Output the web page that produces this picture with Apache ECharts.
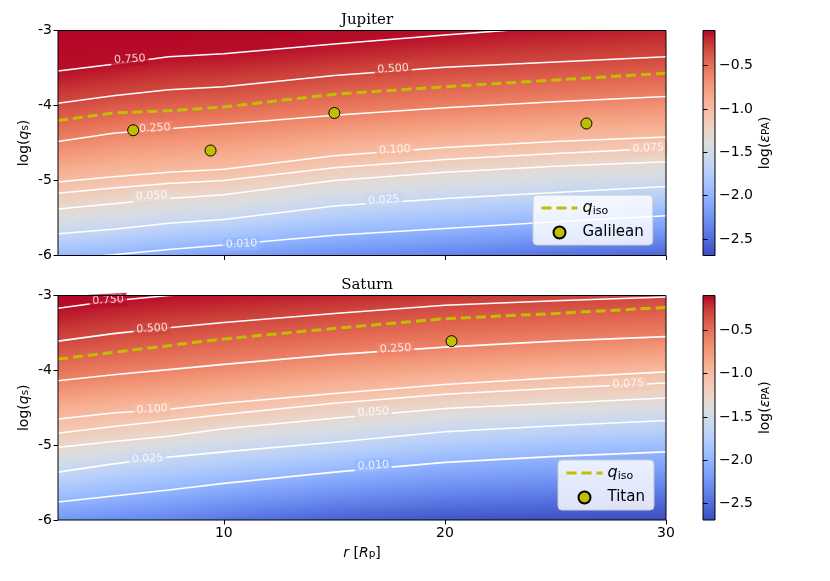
<!DOCTYPE html>
<html>
<head>
<meta charset="utf-8">
<script src="https://cdn.jsdelivr.net/npm/echarts@6/dist/echarts.min.js"></script>
<style>
  html, body { margin: 0; padding: 0; background: #fff; }
  #chart { width: 830px; height: 581px; }
</style>
</head>
<body>
<div id="chart"></div>
<script>
// radial columns where the contours were read (r in planet radii)
const rCols = [2.5, 5, 7.5, 10, 15, 20, 25, 30];

// contour levels of eps_PA, top to bottom
const levelVals = [0.75, 0.5, 0.25, 0.1, 0.075, 0.05, 0.025, 0.01];

// Jupiter: log(q_s) of every contour at each column
const jup075 = [-3.54, -3.45, -3.35, -3.31, -3.18, -3.06, -2.95, -2.86];
const jup050 = [-3.97, -3.87, -3.79, -3.75, -3.60, -3.49, -3.42, -3.35];
const jup025 = [-4.48, -4.37, -4.31, -4.25, -4.13, -4.03, -3.95, -3.88];
const jup010 = [-5.02, -4.95, -4.89, -4.85, -4.67, -4.56, -4.48, -4.42];
const jup0075 = [-5.17, -5.10, -5.04, -5.00, -4.83, -4.72, -4.64, -4.57];
const jup005 = [-5.38, -5.31, -5.24, -5.19, -5.00, -4.89, -4.81, -4.75];
const jup0025 = [-5.71, -5.65, -5.57, -5.52, -5.34, -5.24, -5.16, -5.08];
const jup001 = [-6.05, -5.99, -5.92, -5.86, -5.73, -5.64, -5.55, -5.47];
// log(eps_PA) at the upper (log q = -3) and lower (log q = -6) edges
const jupTop = [-0.096, -0.098, -0.10, -0.10, -0.11, -0.115, -0.143, -0.175];
const jupBottom = [-1.945, -2.01, -2.09, -2.16, -2.27, -2.36, -2.46, -2.54];
const jupQiso = [-4.20, -4.10, -4.07, -4.02, -3.85, -3.75, -3.66, -3.57];

// Saturn
const sat075 = [-3.17, -3.07, -3.00, -2.97, -2.90, -2.83, -2.77, -2.70];
const sat050 = [-3.61, -3.51, -3.43, -3.36, -3.24, -3.13, -3.07, -3.02];
const sat025 = [-4.14, -4.06, -3.99, -3.92, -3.79, -3.69, -3.61, -3.55];
const sat010 = [-4.65, -4.57, -4.52, -4.44, -4.31, -4.19, -4.10, -4.02];
const sat0075 = [-4.84, -4.75, -4.67, -4.59, -4.44, -4.32, -4.24, -4.17];
const sat005 = [-5.03, -4.95, -4.88, -4.78, -4.64, -4.51, -4.44, -4.37];
const sat0025 = [-5.36, -5.25, -5.16, -5.09, -4.96, -4.82, -4.74, -4.67];
const sat001 = [-5.76, -5.68, -5.60, -5.51, -5.36, -5.23, -5.15, -5.09];
const satTop = [-0.096, -0.11, -0.125, -0.14, -0.18, -0.22, -0.26, -0.29];
const satBottom = [-2.23, -2.29, -2.35, -2.44, -2.56, -2.64, -2.67, -2.69];
const satQiso = [-3.85, -3.76, -3.67, -3.58, -3.44, -3.31, -3.24, -3.16];

// moons
const galR = [5.9, 9.4, 15.0, 26.4];
const galQ = [-4.33, -4.60, -4.10, -4.24];
const titanR = [20.3];
const titanQ = [-3.61];

// where the inline contour labels sit (same order as levelVals)
const jupLabR = [5.75, 17.66, 6.88, 17.74, 29.2, 6.73, 17.24, 10.8];
const jupLabQ = [-3.384, -3.513, -4.304, -4.593, -4.571, -5.207, -5.26, -5.847];
const satLabR = [4.77, 6.76, 17.77, 6.76, 28.3, 16.76, 6.55, 16.76];
const satLabQ = [-3.064, -3.444, -3.712, -4.523, -4.184, -4.559, -5.184, -5.272];

// colour bar
const vMin = -2.69, vMax = -0.096;
const cbTicks = [-2.5, -2.0, -1.5, -1.0, -0.5];
const xTicks = [10, 20, 30];

const jupRows = [jup075, jup050, jup025, jup010, jup0075, jup005, jup0025, jup001];
const satRows = [sat075, sat050, sat025, sat010, sat0075, sat005, sat0025, sat001];
const levelLogs = levelVals.map(v => Math.log10(v));

// coolwarm
const cmapStops = ['#3b4cc0', '#4d68d7', '#6282ea', '#779af7', '#8db0fe', '#a3c2fe',
  '#b8d0f9', '#ccd9ee', '#dddddd', '#ecd3c5', '#f5c4ad', '#f7b194', '#f49a7b',
  '#ec7f63', '#de604d', '#cb3e38', '#b40426'];
const cmapRgb = cmapStops.map(h => [1, 3, 5].map(k => parseInt(h.substr(k, 2), 16)));

function cmap(v) {
  let t = (v - vMin) / (vMax - vMin);
  t = Math.max(0, Math.min(1, t));
  const f = t * (cmapRgb.length - 1);
  const k = Math.min(cmapRgb.length - 2, Math.floor(f));
  const u = f - k;
  const a = cmapRgb[k], b = cmapRgb[k + 1];
  return 'rgb(' + a.map((c, j) => Math.round(c + (b[j] - c) * u)).join(',') + ')';
}

const lerp = (a, b, t) => a + (b - a) * t;

// gradient stops down one strip: [logq, value] pairs from -3 to -6
function stripStops(pts) {
  const stops = [];
  for (let p = 0; p < pts.length - 1; p++) {
    for (let s = 0; s < 4; s++) {
      const t = s / 4;
      const q = lerp(pts[p][0], pts[p + 1][0], t);
      stops.push({ offset: (-3 - q) / 3, color: cmap(lerp(pts[p][1], pts[p + 1][1], t)) });
    }
  }
  const last = pts[pts.length - 1];
  stops.push({ offset: (-3 - last[0]) / 3, color: cmap(last[1]) });
  return stops;
}

function fieldRender(rows, topV, botV) {
  return function (params, api) {
    const i = api.value(2);
    if (i >= rCols.length - 1) return;
    const N = 14;
    const children = [];
    for (let k = 0; k < N; k++) {
      const tm = (k + 0.5) / N;
      const pa = api.coord([lerp(rCols[i], rCols[i + 1], k / N), -3]);
      const pb = api.coord([lerp(rCols[i], rCols[i + 1], (k + 1) / N), -6]);
      const pts = [[-3, lerp(topV[i], topV[i + 1], tm)]];
      rows.forEach((row, j) => {
        const q = lerp(row[i], row[i + 1], tm);
        if (q < -3 && q > -6) pts.push([q, levelLogs[j]]);
      });
      pts.push([-6, lerp(botV[i], botV[i + 1], tm)]);
      children.push({
        type: 'rect',
        shape: { x: pa[0], y: pa[1], width: pb[0] - pa[0] + 0.8, height: pb[1] - pa[1] },
        style: { fill: new echarts.graphic.LinearGradient(0, 0, 0, 1, stripStops(pts)) }
      });
    }
    return { type: 'group', children: children };
  };
}

const font = 'DejaVu Sans';
const sub = { fontSize: 10.5, lineHeight: 10, verticalAlign: 'bottom' };

function panelSeries(idx, rows, topV, botV, qiso, moonName, moonR, moonQ, labR, labQ) {
  const out = [];
  out.push({
    type: 'custom', xAxisIndex: idx, yAxisIndex: idx, z: 1, silent: true, clip: true,
    renderItem: fieldRender(rows, topV, botV),
    encode: { x: 0, y: 1 },
    data: rCols.map((r, i) => [r, -3, i])
  });
  rows.forEach(row => {
    out.push({
      type: 'line', xAxisIndex: idx, yAxisIndex: idx, z: 3, silent: true, symbol: 'none',
      lineStyle: { color: '#ffffff', width: 1.6 },
      data: rCols.map((r, i) => [r, row[i]])
    });
  });
  out.push({
    type: 'scatter', xAxisIndex: idx, yAxisIndex: idx, z: 4, silent: true,
    symbolSize: 1, itemStyle: { color: 'rgba(0,0,0,0)' },
    label: {
      show: true, position: 'inside', color: '#ffffff', fontSize: 11, fontFamily: font,
      rotate: 3, padding: [1, 3]
    },
    data: levelVals.map((v, j) => ({
      value: [labR[j], labQ[j]],
      label: { formatter: v.toFixed(3), backgroundColor: cmap(levelLogs[j]) }
    }))
  });
  out.push({
    name: 'qiso', type: 'line', xAxisIndex: idx, yAxisIndex: idx, z: 5,
    symbol: 'none', showSymbol: false,
    itemStyle: { color: '#bfbf00' },
    lineStyle: { color: '#bfbf00', width: 3, type: [10, 5] },
    data: rCols.map((r, i) => [r, qiso[i]])
  });
  out.push({
    name: moonName, type: 'scatter', xAxisIndex: idx, yAxisIndex: idx, z: 6,
    symbolSize: 11,
    itemStyle: { color: '#bfbf00', borderColor: '#000', borderWidth: 1, opacity: 1 },
    data: moonR.map((r, i) => [r, moonQ[i]])
  });
  return out;
}

function colorbarSeries(idx) {
  return {
    type: 'custom', xAxisIndex: idx, yAxisIndex: idx, silent: true, z: 1,
    encode: { x: 0, y: 1 },
    data: [[0, vMin]],
    renderItem: function (params, api) {
      const p0 = api.coord([0, vMax]);
      const p1 = api.coord([1, vMin]);
      return {
        type: 'rect',
        shape: { x: p0[0], y: p0[1], width: p1[0] - p0[0], height: p1[1] - p0[1] },
        style: {
          fill: new echarts.graphic.LinearGradient(0, 1, 0, 0,
            cmapStops.map((c, k) => ({ offset: k / (cmapStops.length - 1), color: c })))
        }
      };
    }
  };
}

const gridBase = { show: true, borderColor: '#000', borderWidth: 1, backgroundColor: 'transparent', z: 10 };
const nameRich = { i: { fontStyle: 'italic', fontSize: 14 }, s: sub };

function mainX(idx, withLabels) {
  return {
    type: 'value', gridIndex: idx, min: 2.5, max: 30, z: 10,
    axisLine: { show: false },
    splitLine: { show: false },
    axisTick: { show: true, customValues: xTicks, length: 4.5, lineStyle: { color: '#000' } },
    axisLabel: { show: withLabels, customValues: xTicks, color: '#000', fontSize: 14, fontFamily: font, margin: 6 },
    name: withLabels ? '{i|r} [{i|R}{s|p}]' : '',
    nameLocation: 'middle', nameGap: 26, nameMoveOverlap: false,
    nameTextStyle: { color: '#000', fontSize: 14, fontFamily: font, rich: nameRich }
  };
}

function mainY(idx) {
  return {
    type: 'value', gridIndex: idx, min: -6, max: -3, interval: 1, z: 10,
    axisLine: { show: false },
    splitLine: { show: false },
    axisTick: { show: true, length: 4.5, lineStyle: { color: '#000' } },
    axisLabel: { color: '#000', fontSize: 14, fontFamily: font, margin: 6 },
    name: 'log({i|q}{s|s})', nameLocation: 'middle', nameRotate: 90, nameGap: 27, nameMoveOverlap: false,
    nameTextStyle: { color: '#000', fontSize: 14, fontFamily: font, rich: nameRich }
  };
}

function cbX(idx) {
  return { type: 'value', gridIndex: idx, min: 0, max: 1, show: false };
}

function cbY(idx) {
  return {
    type: 'value', gridIndex: idx, min: vMin, max: vMax, position: 'right', z: 10,
    axisLine: { show: false },
    splitLine: { show: false },
    axisTick: { show: true, customValues: cbTicks, length: 4.5, lineStyle: { color: '#000' } },
    axisLabel: {
      customValues: cbTicks, color: '#000', fontSize: 14, fontFamily: font, margin: 4,
      formatter: v => (v < 0 ? '\u2212' : '') + Math.abs(v).toFixed(1)
    },
    name: 'log({i|ε}{s|PA})', nameLocation: 'middle', nameRotate: 90, nameGap: 43, nameMoveOverlap: false,
    nameTextStyle: { color: '#000', fontSize: 14, fontFamily: font, rich: nameRich }
  };
}

function legendFor(names, left, top) {
  return {
    // the line icon gets a hidden marker so only the dashed stroke shows
    data: names.map(n => n === 'qiso'
      ? {
        name: n,
        itemStyle: { color: 'rgba(0,0,0,0)', borderColor: 'rgba(0,0,0,0)', borderWidth: 0 },
        lineStyle: { color: '#bfbf00', width: 3, type: [10, 5] }
      }
      : n),
    left: left, top: top, orient: 'vertical',
    backgroundColor: 'rgba(255,255,255,0.82)', borderColor: '#cccccc', borderWidth: 1, borderRadius: 4,
    padding: [5, 9, 5, 7], itemGap: 8, itemWidth: 36, itemHeight: 12,
    formatter: n => n === 'qiso' ? '{i|q}{s|iso}' : n,
    textStyle: {
      color: '#000', fontSize: 15, fontFamily: font,
      rich: { i: { fontStyle: 'italic', fontSize: 16, lineHeight: 18 }, s: { fontSize: 11, lineHeight: 10, verticalAlign: 'bottom' } }
    },
    selectedMode: false
  };
}

const chart = echarts.init(document.getElementById('chart'));
chart.setOption({
  animation: false,
  backgroundColor: '#fff',
  textStyle: { fontFamily: font },
  title: [
    { text: 'Jupiter', left: 362, top: 8, textAlign: 'center', textStyle: { fontFamily: 'DejaVu Serif', fontSize: 15, fontWeight: 'normal', color: '#000' } },
    { text: 'Saturn', left: 362, top: 273, textAlign: 'center', textStyle: { fontFamily: 'DejaVu Serif', fontSize: 15, fontWeight: 'normal', color: '#000' } }
  ],
  grid: [
    Object.assign({ left: 58, top: 30.5, width: 608, height: 225 }, gridBase),
    Object.assign({ left: 58, top: 295.5, width: 608, height: 224.5 }, gridBase),
    Object.assign({ left: 703, top: 30.5, width: 12, height: 225 }, gridBase),
    Object.assign({ left: 703, top: 295.5, width: 12, height: 224.5 }, gridBase)
  ],
  xAxis: [mainX(0, false), mainX(1, true), cbX(2), cbX(3)],
  yAxis: [mainY(0), mainY(1), cbY(2), cbY(3)],
  legend: [legendFor(['qiso', 'Galilean'], 533, 195), legendFor(['qiso', 'Titan'], 558, 460)],
  series: [].concat(
    panelSeries(0, jupRows, jupTop, jupBottom, jupQiso, 'Galilean', galR, galQ, jupLabR, jupLabQ),
    panelSeries(1, satRows, satTop, satBottom, satQiso, 'Titan', titanR, titanQ, satLabR, satLabQ),
    [colorbarSeries(2), colorbarSeries(3)]
  )
});
</script>
</body>
</html>
